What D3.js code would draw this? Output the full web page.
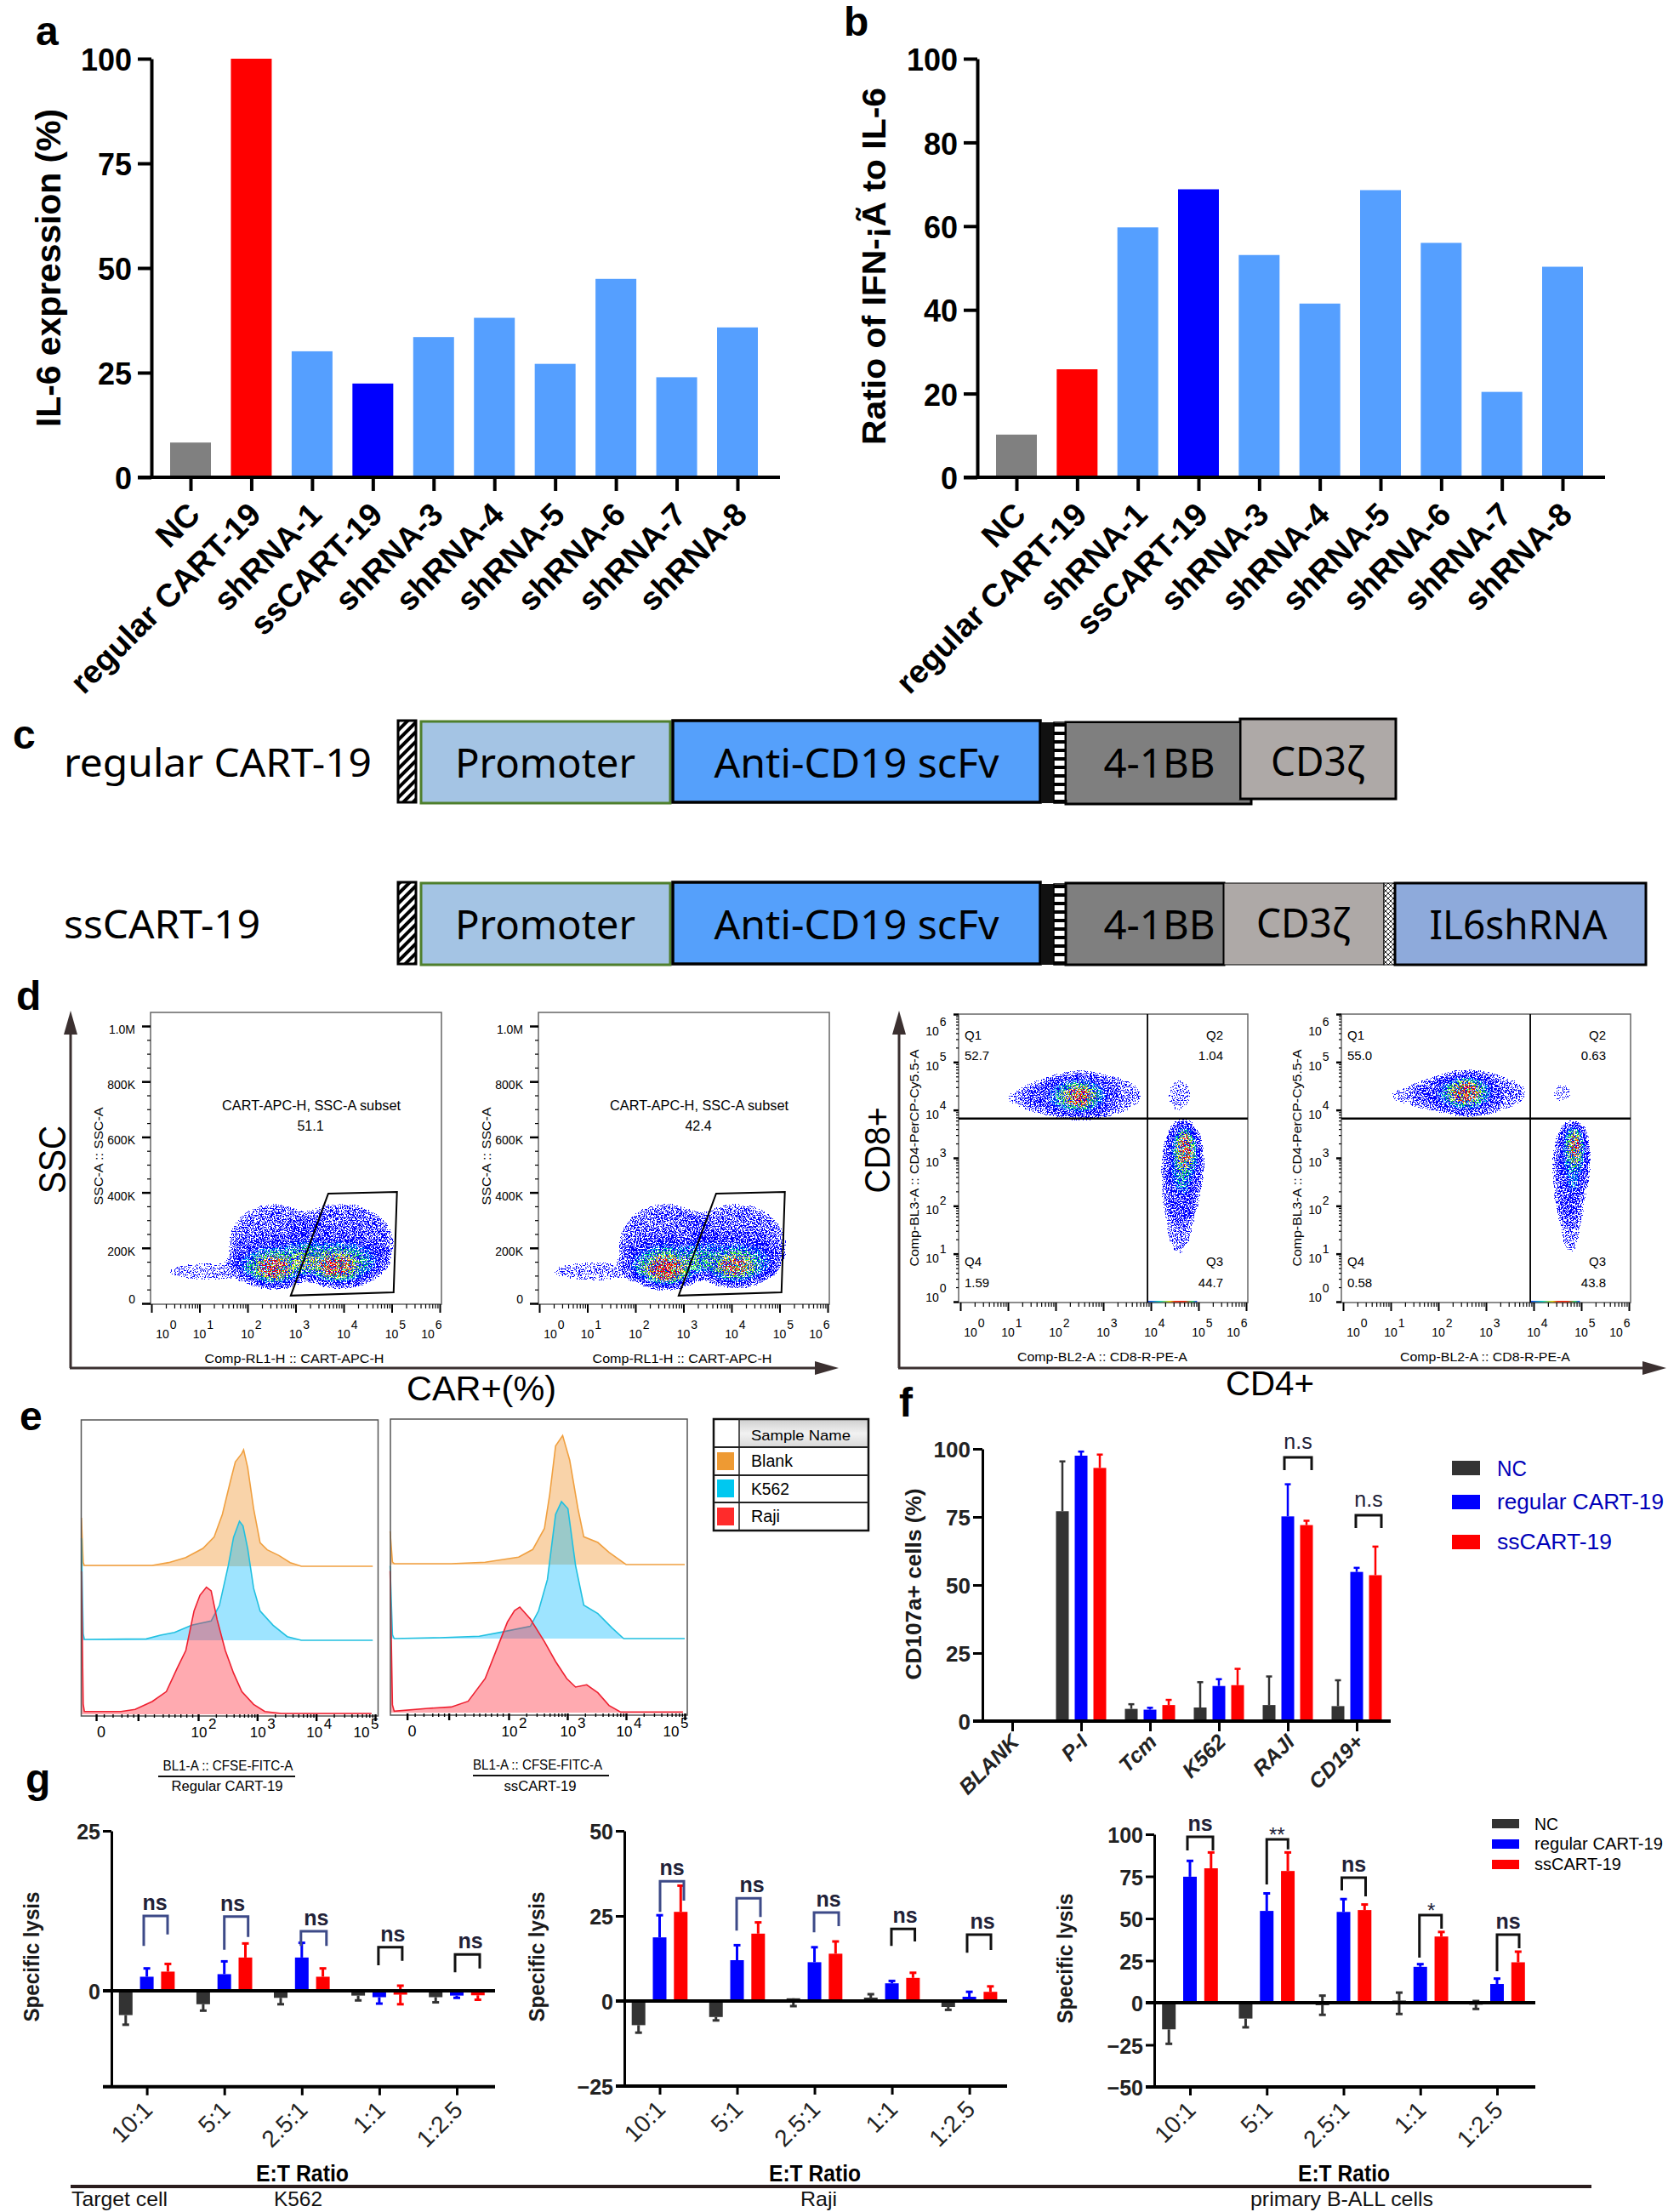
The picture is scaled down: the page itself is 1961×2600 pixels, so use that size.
<!DOCTYPE html>
<html><head><meta charset="utf-8">
<script src="https://cdn.jsdelivr.net/npm/d3@7"></script>
<style>html,body{margin:0;padding:0;background:#fff}svg{display:block}</style>
</head><body><svg id="chart" width="1961" height="2600" xmlns="http://www.w3.org/2000/svg"></svg>
<script>
// ---------- DATA ----------
const screenCategories = ["NC","regular CART-19","shRNA-1","ssCART-19","shRNA-3","shRNA-4","shRNA-5","shRNA-6","shRNA-7","shRNA-8"];
const il6Values   = [8.3,100,30.1,22.4,33.5,38.1,27.1,47.4,23.9,35.8];
const ratioValues = [10.2,25.8,59.7,68.8,53.1,41.5,68.6,56,20.4,50.3];
const il6Ticks = [0,25,50,75,100];
const ratioTicks = [0,20,40,60,80,100];
const screenColors = ["#808080","#ff0000","#559fff","#0000ff","#559fff","#559fff","#559fff","#559fff","#559fff","#559fff"];

const seriesNames = ["NC","regular CART-19","ssCART-19"];
const seriesColors = ["#333333","#0000ff","#ff0000"];

const cd107Categories = ["BLANK","P-I","Tcm","K562","RAJI","CD19+"];
const cd107Ticks = [0,25,50,75,100];
const cd107NC  = [0,77.1,4.5,5,5.9,5.5];
const cd107Reg = [0,97.5,4.2,12.9,75.2,54.8];
const cd107SS  = [0,93,5.9,13.2,72,53.6];
const cd107NCErr  = [null,95.4,6.2,14.3,16.4,15];
const cd107RegErr = [null,99,4.9,15.4,87,56.3];
const cd107SSErr  = [null,97.9,7.8,19.2,73.6,64.1];

const ratioCategories = ["10:1","5:1","2.5:1","1:1","1:2.5"];
const k562NC  = [-3.8,-2.1,-1.1,-0.75,-1];
const k562Reg = [2.2,2.6,5.2,-1,-0.75];
const k562SS  = [3,5.2,2.2,-0.6,-0.7];
const k562NCErr  = [-5.3,-3.1,-2.1,-1.5,-1.8];
const k562RegErr = [3.5,4.6,7.5,-2,-1.1];
const k562SSErr  = [4.2,7.4,3.5,-2.1,-1.4];
const k562SSErr2 = [null,null,null,0.8,null];

const rajiNC  = [-7.1,-4.7,0.8,1,-1.75];
const rajiReg = [18.7,12,11.4,5.2,1.25];
const rajiSS  = [26.2,19.8,13.9,6.8,2.7];
const rajiNCErr  = [-9.3,-5.7,-1.5,2,-2.6];
const rajiRegErr = [25.2,16.4,15.8,5.9,2.7];
const rajiSSErr  = [33.9,23.1,17.5,8.3,4.3];

const ballNC  = [-15.8,-9.4,-1.5,1.3,-1.2];
const ballReg = [74.8,54.5,53.9,21.3,11.1];
const ballSS  = [79.8,78.2,55,39.3,24];
const ballNCErr  = [-24.4,-14.6,-7.2,-6.7,-3.7];
const ballNCErr2 = [null,null,4.2,6,1];
const ballRegErr = [84.2,64.9,61.5,22.9,14.3];
const ballSSErr  = [89.2,89.2,58.3,42,30.3];

// histograms: [log10 fluorescence, relative count]
const histReg = {
  Blank:[[0.02,38],[0.05,3],[0.07,0.7],[1.22,0.7],[1.5,2.9],[1.79,6.9],[2.08,14],[2.27,22.9],[2.41,40.7],[2.55,67.3],[2.63,81.8],[2.74,88.4],[2.77,91.3],[2.84,77.3],[2.94,45.1],[3.05,18.4],[3.17,12.9],[3.37,8.4],[3.56,2.9],[3.75,0],[4.96,0]],
  K562:[[0.02,80],[0.05,5],[0.07,0.7],[1.12,1.1],[1.36,4],[1.6,6.2],[1.89,11.8],[2.22,15.1],[2.36,27.3],[2.51,58.4],[2.6,80.7],[2.7,93.3],[2.76,89.6],[2.84,71.8],[2.94,40.7],[3.05,22.9],[3.27,11.8],[3.51,2.9],[3.75,0],[4.96,0]],
  Raji:[[0.02,112],[0.05,8],[0.07,2.2],[0.69,2.2],[0.93,3.8],[1.22,10],[1.46,17.8],[1.65,36.7],[1.79,50],[1.93,81.1],[2.03,93.3],[2.14,99.6],[2.22,96.7],[2.32,74.4],[2.46,50],[2.6,32.2],[2.74,17.8],[2.94,7.8],[3.13,2.2],[3.41,0.7],[4.94,0.7]]
};
const histSS = {
  Blank:[[-0.02,26],[0.02,2],[0.05,0.7],[1.02,0.7],[1.6,1.8],[2.17,5.8],[2.41,11.8],[2.61,28.4],[2.7,55.1],[2.8,92.9],[2.92,101.1],[3.04,81.8],[3.18,44],[3.28,21.8],[3.52,17.3],[3.71,9.6],[4,0],[5,0]],
  K562:[[-0.02,57],[0.02,3],[0.05,0],[0.82,0.7],[1.5,1.8],[1.88,5.1],[2.37,9.6],[2.51,21.8],[2.66,46.2],[2.8,97.3],[2.9,107.3],[3.01,101.8],[3.14,57.3],[3.28,26.2],[3.52,19.6],[3.76,8.4],[3.96,0],[5,0]],
  Raji:[[-0.02,111],[0.02,6],[0.05,1.1],[0.63,3.3],[1.02,4.4],[1.31,8.9],[1.6,26.7],[1.79,48.9],[1.98,71.1],[2.1,80],[2.19,82.7],[2.37,73.3],[2.61,55.6],[2.8,40],[2.99,26.7],[3.14,20],[3.33,21.8],[3.52,15.6],[3.71,5.6],[3.91,0.4],[4.97,0.4]]
};
const histTicks = [0.27,0.98,2,3,4,5];

// flow plots: density clusters [centre x, centre y, radius x, radius y, weight]
const carRegular = [[1.2,115,1.0,45,.072],[2.55,210,.95,150,.11],[3.95,210,1.1,150,.12],[2.55,150,.85,85,.12],[2.55,135,.65,65,.18],[2.55,128,.38,42,.34],[2.55,125,.17,20,.62],[3.9,160,.95,85,.14],[3.9,145,.72,65,.18],[3.85,135,.42,45,.32],[3.85,128,.18,20,.62]];
const carSs = [[1.2,115,1.05,45,.075],[2.65,210,1.0,150,.115],[4.1,210,1.05,150,.11],[2.64,150,.85,88,.14],[2.64,135,.65,68,.2],[2.64,126,.38,44,.38],[2.64,122,.2,24,.76],[4.1,160,.9,85,.13],[4.1,145,.68,62,.17],[4.06,135,.42,44,.3],[4.06,130,.16,20,.36]];
const tcellRegular = [[1.7,4.25,.8,.3,.078],[2.6,4.3,1.25,.5,.09],[2.5,4.3,.78,.42,.14],[2.5,4.3,.5,.3,.24],[2.5,4.28,.26,.2,.42],[2.5,4.25,.1,.13,.6],[4.6,1.9,.3,.95,.1],[4.65,2.7,.42,1.05,.11],[4.7,3.0,.32,.75,.2],[4.72,3.15,.18,.45,.42],[4.75,3.2,.08,.22,.55],[4.6,4.3,.32,.42,.072]];
const tcellSs = [[1.75,4.3,.85,.28,.078],[2.7,4.35,1.2,.46,.09],[2.6,4.35,.72,.4,.15],[2.6,4.35,.46,.3,.26],[2.57,4.38,.25,.2,.44],[2.57,4.4,.1,.13,.62],[4.78,1.8,.22,.85,.1],[4.75,2.7,.36,1.05,.11],[4.85,3.0,.27,.72,.2],[4.87,3.2,.14,.45,.42],[4.87,3.3,.07,.22,.5],[4.6,4.35,.3,.3,.066]];
const carGates = [[[2.9,28],[3.68,396],[5.11,402],[5.04,40]],[[2.9,28],[3.68,396],[5.11,402],[5.04,40]]];
const densityRamp = [null,null,"#0000ff","#0000ff","#0000ff","#0000ff","#0000ff","#0000ff","#0020ff","#0090ff","#00d0e0","#00e090","#00e050","#30e020","#80f000","#d0f000","#ffd000","#ff8000","#ff3000","#ff0000"];
const quadrantLabels = [{q:["Q1","52.7","Q2","1.04","Q4","1.59","Q3","44.7"]},{q:["Q1","55.0","Q2","0.63","Q4","0.58","Q3","43.8"]}];

// ---------- HELPERS ----------
const SANS = "'Liberation Sans', Arial, sans-serif";
const CAL = "'Noto Sans', sans-serif";
const svg = d3.select("#chart");
const defs = svg.append("defs");
function T(p,str,x,y,o={}){
  const t=p.append("text").attr("x",x).attr("y",y).attr("font-family",o.fam||SANS)
    .attr("font-size",o.size||16).attr("font-weight",o.w||"normal").attr("font-style",o.style||"normal")
    .attr("fill",o.fill||"#000").attr("text-anchor",o.anchor||"start").text(str);
  if(o.rot!=null) t.attr("transform",`rotate(${o.rot} ${x} ${y})`);
  if(o.len) t.attr("textLength",o.len).attr("lengthAdjust","spacingAndGlyphs");
  return t;
}
function L(p,x1,y1,x2,y2,c="#000",w=2){return p.append("line").attr("x1",x1).attr("y1",y1).attr("x2",x2).attr("y2",y2).attr("stroke",c).attr("stroke-width",w);}
function R(p,x,y,w,h,f,s,sw){return p.append("rect").attr("x",x).attr("y",y).attr("width",w).attr("height",h).attr("fill",f).attr("stroke",s||"none").attr("stroke-width",sw||0);}

// panel letters
[["a",42,53],["b",992,42],["c",15,880],["d",19,1187],["e",23,1681],["f",1057,1665],["g",30,2107]].forEach(d=>T(svg,d[0],d[1],d[2],{size:48,w:"bold"}));

// ---------- a, b ----------
function screenPanel(o){
  const g=svg.append("g");
  const x=d3.scalePoint(screenCategories,[o.x0,o.x1]);
  const y=d3.scaleLinear([0,100],[561,69]);
  g.selectAll("rect.bar").data(o.values).join("rect").attr("class","bar")
    .attr("x",(d,i)=>x(screenCategories[i])-24).attr("width",48)
    .attr("y",d=>y(d)).attr("height",d=>y(0)-y(d)).attr("fill",(d,i)=>screenColors[i]);
  const ya=g.append("g").attr("transform",`translate(${o.axis},0)`).call(d3.axisLeft(y).tickValues(o.ticks).tickSize(16).tickPadding(7).tickSizeOuter(0));
  ya.selectAll("path,line").attr("stroke","#000").attr("stroke-width",4);
  ya.selectAll("text").attr("font-family",SANS).attr("font-weight","bold").attr("font-size",36).attr("fill","#000").attr("dy","0.38em");
  const xa=g.append("g").attr("transform",`translate(0,${y(0)})`).call(d3.axisBottom(x).tickSize(16).tickSizeOuter(0));
  xa.select("path").remove();
  xa.selectAll("line").attr("stroke","#000").attr("stroke-width",4);
  xa.selectAll("text").attr("font-family",SANS).attr("font-weight","bold").attr("font-size",38).attr("fill","#000")
    .attr("x",0).attr("y",0).attr("dy",0).attr("text-anchor","end").attr("transform","translate(13,46) rotate(-45)");
  L(g,o.axis-16,y(0),o.xEnd,y(0),"#000",4);
  T(g,o.title,o.titleX,o.titleY,{size:o.titleSize,w:"bold",anchor:"middle",rot:-90,len:o.titleLen});
}
screenPanel({values:il6Values,ticks:il6Ticks,x0:224,x1:867,axis:178,xEnd:917,title:"IL-6 expression (%)",titleX:71,titleY:315,titleSize:41,titleLen:374});
screenPanel({values:ratioValues,ticks:ratioTicks,x0:1195,x1:1837,axis:1149,xEnd:1887,title:"Ratio of IFN-¡Ã to IL-6",titleX:1041,titleY:313,titleSize:38,titleLen:420});

// ---------- c ----------
const hatch=defs.append("pattern").attr("id","hatch").attr("width",8).attr("height",8).attr("patternUnits","userSpaceOnUse").attr("patternTransform","rotate(-45) ");
hatch.append("rect").attr("width",8).attr("height",8).attr("fill","#fff");
hatch.append("rect").attr("width",8).attr("height",4).attr("fill","#000");
const dash=defs.append("pattern").attr("id","dash").attr("width",16).attr("height",10).attr("patternUnits","userSpaceOnUse");
dash.append("rect").attr("width",16).attr("height",10).attr("fill","#fff");
dash.append("rect").attr("width",16).attr("height",4).attr("fill","#000");
const cross=defs.append("pattern").attr("id","cross").attr("width",6).attr("height",6).attr("patternUnits","userSpaceOnUse");
cross.append("rect").attr("width",6).attr("height",6).attr("fill","#fff");
cross.append("path").attr("d","M0 0L6 6M6 0L0 6").attr("stroke","#222").attr("stroke-width",1);
function construct(top,h,segs){
  const g=svg.append("g");
  R(g,468,top,21,h,"url(#hatch)","#000",3);
  R(g,495,top+1,293,h,"#a4c4e4","#4e7f2c",3);
  R(g,791,top,432,h,"#55a0fb","#000",3.5);
  R(g,1224,top+2,15,h-1,"#111");
  R(g,1239,top+2,14,h-1,"url(#dash)","#000",1.5);
  segs.forEach(s=>{
    const pad=s.pad||0;
    R(g,s.x,top+s.dy,s.w,h-pad,s.fill,"#000",s.sw==null?3:s.sw);
  });
  T(g,"Promoter",641,top+67,{size:47,fam:CAL,anchor:"middle",len:212});
  T(g,"Anti-CD19 scFv",1007,top+67,{size:47,fam:CAL,anchor:"middle",len:335});
  return g;
}
let gc=construct(847,96,[{x:1253,w:218,fill:"#7f7f7f",dy:2},{x:1458,w:183,fill:"#aea9a7",dy:-2,pad:2}]);
R(gc,1254,850,203,90,"#7f7f7f");
T(gc,"4-1BB",1363,914,{size:47,fam:CAL,anchor:"middle",len:131});
T(gc,"CD3ζ",1549,912,{size:47,fam:CAL,anchor:"middle",len:110});
T(svg,"regular CART-19",75,913,{size:46,fam:CAL,len:362});
gc=construct(1037,96,[{x:1253,w:186,fill:"#7f7f7f",dy:1},{x:1439,w:188,fill:"#aea9a7",dy:1,sw:1},{x:1627,w:13,fill:"url(#cross)",dy:1,sw:1},{x:1640,w:295,fill:"#8eaadb",dy:1}]);
T(gc,"4-1BB",1363,1104,{size:47,fam:CAL,anchor:"middle",len:131});
T(gc,"CD3ζ",1532,1102,{size:47,fam:CAL,anchor:"middle",len:110});
T(gc,"IL6shRNA",1785,1104,{size:47,fam:CAL,anchor:"middle",len:209});
T(svg,"ssCART-19",75,1103,{size:46,fam:CAL,len:231});

// ---------- d ----------
const hex=c=>c?d3.rgb(c):{r:0,g:0,b:0};
function densityFilter(id,seed,left,top,w,h){
  const f=defs.append("filter").attr("id",id).attr("filterUnits","userSpaceOnUse").attr("x",left).attr("y",top).attr("width",w).attr("height",h)
    .attr("color-interpolation-filters","sRGB");
  f.append("feGaussianBlur").attr("in","SourceAlpha").attr("stdDeviation",6).attr("result","d");
  f.append("feTurbulence").attr("type","fractalNoise").attr("baseFrequency",0.7).attr("numOctaves",2).attr("seed",seed).attr("result","n");
  f.append("feColorMatrix").attr("in","n").attr("type","matrix").attr("values","0 0 0 0 0 0 0 0 0 0 0 0 0 0 0 0 0 0 5 -2").attr("result","n2");
  f.append("feComposite").attr("in","d").attr("in2","n2").attr("operator","arithmetic").attr("k1",1.6).attr("k2",0.1).attr("k3",0).attr("k4",0).attr("result","v");
  f.append("feColorMatrix").attr("in","v").attr("type","matrix").attr("values","0 0 0 1 0 0 0 0 1 0 0 0 0 1 0 0 0 0 1 0").attr("result","vv");
  const ct=f.append("feComponentTransfer").attr("in","vv");
  ct.append("feFuncR").attr("type","discrete").attr("tableValues",densityRamp.map(c=>(hex(c).r/255).toFixed(3)).join(" "));
  ct.append("feFuncG").attr("type","discrete").attr("tableValues",densityRamp.map(c=>(hex(c).g/255).toFixed(3)).join(" "));
  ct.append("feFuncB").attr("type","discrete").attr("tableValues",densityRamp.map(c=>(hex(c).b/255).toFixed(3)).join(" "));
  ct.append("feFuncA").attr("type","discrete").attr("tableValues",densityRamp.map(c=>c?1:0).join(" "));
}
function drawClusters(g,id,clusters,x,y){
  g.append("g").attr("filter",`url(#${id})`).selectAll("ellipse").data(clusters).join("ellipse")
    .attr("cx",d=>x(d[0])).attr("cy",d=>y(d[1]))
    .attr("rx",d=>Math.abs(x(d[0]+d[2])-x(d[0]))).attr("ry",d=>Math.abs(y(d[1]+d[3])-y(d[1])))
    .attr("fill","#000").attr("fill-opacity",d=>d[4]);
}
const decades=[0,1,2,3,4,5,6];
const minorLog=decades.slice(0,6).flatMap(e=>d3.range(2,10).map(m=>e+Math.log10(m)));
function styleTicks(sel,w){sel.selectAll("path").remove();sel.selectAll("line").attr("stroke","#000").attr("stroke-width",w);sel.selectAll("text").remove();}
function tenLabel(g,cx,base,e,size){
  T(g,"10",cx,base,{size:size,anchor:"middle"});
  T(g,String(e),cx+size*0.62,base-11,{size:size,anchor:"start"});
}
function carPlot(o){
  const g=svg.append("g");
  const left=o.left, right=left+342, top=1190, bottom=1533;
  const x=d3.scaleLinear([0,6],[left+1,left+340]);
  const y=d3.scaleLinear([0,1000],[1532,1206]);
  densityFilter(o.id,o.seed,left,top,342,343);
  drawClusters(g,o.id,o.clusters,x,y);
  R(g,left,top,342,343,"none","#666",1.5);
  const xa=g.append("g").attr("transform",`translate(0,${bottom})`);
  xa.append("g").call(d3.axisBottom(x).tickValues(minorLog).tickSize(5).tickSizeOuter(0)).call(styleTicks,1.2);
  xa.append("g").call(d3.axisBottom(x).tickValues(decades).tickSize(10).tickSizeOuter(0)).call(styleTicks,2);
  const ya=g.append("g").attr("transform",`translate(${left},0)`);
  ya.append("g").call(d3.axisLeft(y).tickValues(d3.range(0,1001,50)).tickSize(4).tickSizeOuter(0)).call(styleTicks,1.2);
  ya.append("g").call(d3.axisLeft(y).tickValues([0,200,400,600,800,1000]).tickSize(10).tickSizeOuter(0)).call(styleTicks,2.5);
  [["1.0M",1000],["800K",800],["600K",600],["400K",400],["200K",200],["0",0]].forEach(d=>{
    T(g,d[0],left-18,y(d[1])+(d[1]?9:0),{size:14,anchor:"end"});
  });
  decades.forEach(e=>{
    const cx=x(e)+(e===0?13:e===6?-14:0);
    tenLabel(g,cx,1573,e,14);
  });
  T(g,"SSC-A :: SSC-A",left-56,1359,{size:15,anchor:"middle",rot:-90,len:115});
  T(g,"Comp-RL1-H :: CART-APC-H",left+169,1602,{size:15,anchor:"middle",len:211});
  T(g,"CART-APC-H, SSC-A subset",left+189,1305,{size:16,anchor:"middle",len:210});
  T(g,o.pct,left+188,1329,{size:16,anchor:"middle"});
  g.append("path").datum(o.gate).attr("d",d3.line().x(d=>x(d[0])).y(d=>y(d[1])).curve(d3.curveLinearClosed)).attr("fill","none").attr("stroke","#000").attr("stroke-width",2);
}
carPlot({left:177,id:"fc1",seed:3,clusters:carRegular,gate:carGates[0],pct:"51.1"});
carPlot({left:633,id:"fc2",seed:8,clusters:carSs,gate:carGates[1],pct:"42.4"});

const rainbow=defs.append("linearGradient").attr("id","rainbow");
[[0,"#0030ff"],[.25,"#00e0c0"],[.45,"#f0e000"],[.55,"#ff2000"],[.75,"#ff2000"],[.9,"#20e060"],[1,"#0030ff"]].forEach(s=>rainbow.append("stop").attr("offset",s[0]).attr("stop-color",s[1]));
function tcellPlot(o){
  const g=svg.append("g");
  const left=o.left, top=1192, bottom=1531;
  const x=d3.scaleLinear([0,6],[left+2,left+338]);
  const y=d3.scaleLinear([0,6],[1530,1192]);
  densityFilter(o.id,o.seed,left,top,340,339);
  drawClusters(g,o.id,o.clusters,x,y);
  R(g,x(3.93),1529,x(4.97)-x(3.93),3,"url(#rainbow)");
  R(g,left,top,340,339,"none","#666",1.5);
  const xa=g.append("g").attr("transform",`translate(0,${bottom})`);
  xa.append("g").call(d3.axisBottom(x).tickValues(minorLog).tickSize(5).tickSizeOuter(0)).call(styleTicks,1.2);
  xa.append("g").call(d3.axisBottom(x).tickValues(decades).tickSize(10).tickSizeOuter(0)).call(styleTicks,2);
  const ya=g.append("g").attr("transform",`translate(${left},0)`);
  ya.append("g").call(d3.axisLeft(y).tickValues(minorLog).tickSize(3).tickSizeOuter(0)).call(styleTicks,1.2);
  ya.append("g").call(d3.axisLeft(y).tickValues(decades).tickSize(6).tickSizeOuter(0)).call(styleTicks,2.5);
  L(g,x(3.93),top,x(3.93),bottom,"#000",1.8);
  L(g,left,y(3.82),left+340,y(3.82),"#000",2.4);
  decades.forEach(e=>{
    tenLabel(g,x(e)+(e===0?12:e===6?-15:0),1571,e,14);
    const yb=y(e)+(e===0?0:e===6?25:10);
    tenLabel(g,left-31,yb,e,14);
  });
  T(g,"Comp-BL3-A :: CD4-PerCP-Cy5.5-A",left-47,1361,{size:15,anchor:"middle",rot:-90,len:255});
  T(g,"Comp-BL2-A :: CD8-R-PE-A",left+169,1600,{size:15,anchor:"middle",len:200});
  const q=o.labels;
  T(g,q[0],left+7,1222,{size:15});T(g,q[1],left+7,1246,{size:15});
  T(g,q[2],left+311,1222,{size:15,anchor:"end"});T(g,q[3],left+311,1246,{size:15,anchor:"end"});
  T(g,q[4],left+7,1488,{size:15});T(g,q[5],left+7,1513,{size:15});
  T(g,q[6],left+311,1488,{size:15,anchor:"end"});T(g,q[7],left+311,1513,{size:15,anchor:"end"});
}
tcellPlot({left:1127,id:"fc3",seed:5,clusters:tcellRegular,labels:quadrantLabels[0].q});
tcellPlot({left:1577,id:"fc4",seed:11,clusters:tcellSs,labels:quadrantLabels[1].q});

const arrowC="#3b3030";
function arrowUp(x,y0,y1){L(svg,x,y0,x,y1+20,arrowC,3);svg.append("path").attr("d",d3.line()([[x,y1],[x-8,y1+28],[x+8,y1+28]])+"Z").attr("fill",arrowC);}
function arrowRight(y,x0,x1){L(svg,x0,y,x1-20,y,arrowC,3);svg.append("path").attr("d",d3.line()([[x1,y],[x1-28,y-8],[x1-28,y+8]])+"Z").attr("fill",arrowC);}
arrowUp(83,1608,1188);arrowRight(1608,82,986);
arrowUp(1057,1608,1188);arrowRight(1608,1056,1959);
T(svg,"SSC",77,1363,{size:44,anchor:"middle",rot:-90,len:80});
T(svg,"CAR+(%)",566,1646,{size:40,anchor:"middle",len:176});
T(svg,"CD8+",1046,1352,{size:42,anchor:"middle",rot:-90,len:101});
T(svg,"CD4+",1493,1640,{size:40,anchor:"middle",len:104});

// ---------- e ----------
const histStyle={Blank:["#f08c1e","#f0a040"],K562:["#00b8ff","#20c0e0"],Raji:["#ff2030","#ee2030"]};
function histPanel(o){
  const g=svg.append("g");
  const x=d3.scaleLinear([2,5],[o.x2,o.x5]);
  const h=d3.scaleLinear([0,100],[0,150]);
  ["Blank","K562","Raji"].forEach(k=>{
    const base=o.base[k];
    const area=d3.area().x(d=>x(d[0])).y0(base).y1(d=>base-h(d[1])).curve(d3.curveLinear);
    const line=d3.line().x(d=>x(d[0])).y(d=>base-h(d[1])).curve(d3.curveLinear);
    g.append("path").attr("d",area(o.data[k])).attr("fill",histStyle[k][0]).attr("fill-opacity",.38);
    g.append("path").attr("d",line(o.data[k])).attr("fill","none").attr("stroke",histStyle[k][1]).attr("stroke-width",1.6);
  });
  R(g,o.left,o.top,349,348,"none","#555",1.5);
  const ax=g.append("g").attr("transform",`translate(0,${o.top+346})`);
  const minor=[2,3,4].flatMap(e=>d3.range(2,10).map(m=>e+Math.log10(m))).concat([.4,.55,.7,.8,.9,1.1,1.25,1.4,1.5,1.6,1.7,1.8,1.9]);
  ax.append("g").call(d3.axisBottom(x).tickValues(minor).tickSize(4).tickSizeOuter(0)).call(styleTicks,1.4);
  ax.append("g").call(d3.axisBottom(x).tickValues(histTicks).tickSize(8).tickSizeOuter(0)).call(styleTicks,2.4);
  T(g,"0",x(histTicks[0])+6,o.lab,{size:18,anchor:"middle"});
  [[2,9],[3,9],[4,6],[5,-8]].forEach(d=>{
    T(g,"10",x(d[0])+d[1]-8,o.lab,{size:17,anchor:"middle"});
    T(g,String(d[0]),x(d[0])+d[1]+3,o.lab-10,{size:17});
  });
}
histPanel({left:95.5,top:1669,x2:233,x5:441,data:histReg,base:{Blank:1841,K562:1928,Raji:2015},lab:2042});
histPanel({left:459,top:1668,x2:598,x5:805,data:histSS,base:{Blank:1839,K562:1926,Raji:2013},lab:2041});
T(svg,"BL1-A :: CFSE-FITC-A",268,2081,{size:16,anchor:"middle",len:153});
L(svg,186,2088,347,2088,"#111",2);
T(svg,"Regular CART-19",267,2105,{size:16,anchor:"middle",len:131});
T(svg,"BL1-A :: CFSE-FITC-A",632,2080,{size:16,anchor:"middle",len:152});
L(svg,556,2087,716,2087,"#111",2);
T(svg,"ssCART-19",635,2105,{size:16,anchor:"middle",len:85});

const headerGrad=defs.append("linearGradient").attr("id","hdr").attr("x2",0).attr("y2",1);
headerGrad.append("stop").attr("offset",0).attr("stop-color","#d0d0d0");
headerGrad.append("stop").attr("offset",.5).attr("stop-color","#f2f2f2");
headerGrad.append("stop").attr("offset",1).attr("stop-color","#d8d8d8");
R(svg,869,1669,152,32,"url(#hdr)");
R(svg,839,1668,182,131,"none","#111",2.5);
[1701,1734,1766].forEach(y=>L(svg,839,y,1021,y,"#222",2));
L(svg,869,1668,869,1799,"#222",1.5);
T(svg,"Sample Name",883,1693,{size:17,len:117});
[["Blank",1707,1724,"#ee9a33",49],["K562",1739,1757,"#00c8f0",45],["Raji",1772,1789,"#ff2b2b",34]].forEach(d=>{
  R(svg,843,d[1],20,21,d[3]);
  T(svg,d[0],883,d[2],{size:20,len:d[4]});
});

// ---------- f, g ----------
function groupedPanel(o){
  const g=svg.append("g");
  const x=d3.scalePoint(o.cats,[o.x0,o.x1]);
  const y=d3.scaleLinear(o.domain,o.range);
  const offs=[-o.off,0,o.off];
  o.series.forEach((s,si)=>{
    const c=seriesColors[si];
    const X=i=>x(o.cats[i])+offs[si];
    s.v.forEach((v,i)=>{
      if(v===0) return;
      R(g,X(i)-o.barW/2,Math.min(y(v),y(0)),o.barW,Math.abs(y(v)-y(0)),c);
      [s.e[i],s.e2?s.e2[i]:null].forEach(e=>{
        if(e==null) return;
        L(g,X(i),y(v),X(i),y(e),c,o.errW);
        L(g,X(i)-o.cap,y(e),X(i)+o.cap,y(e),c,o.errW);
      });
    });
  });
  const ya=g.append("g").attr("transform",`translate(${o.axis},0)`).call(d3.axisLeft(y).tickValues(o.ticks).tickSize(o.tickL).tickPadding(o.pad).tickSizeOuter(0));
  ya.selectAll("path,line").attr("stroke","#000").attr("stroke-width",3);
  ya.selectAll("text").attr("font-family",SANS).attr("font-weight","bold").attr("font-size",o.fs).attr("fill","#222").attr("dy","0.38em");
  const xa=g.append("g").attr("transform",`translate(0,${y(o.xAt)})`).call(d3.axisBottom(x).tickSize(o.tickX).tickSizeOuter(0));
  xa.select("path").remove();
  xa.selectAll("line").attr("stroke","#000").attr("stroke-width",3);
  xa.selectAll("text").attr("font-family",SANS).attr("font-size",o.xfs).attr("font-weight",o.xw).attr("font-style",o.xstyle||"normal").attr("fill","#222")
    .attr("x",0).attr("y",0).attr("dy",0).attr("text-anchor","end").attr("transform",`translate(${o.xdx},${o.xdy}) rotate(-45)`);
  L(g,o.axis-o.tickL,y(o.xAt),o.xEnd,y(o.xAt),"#000",4);
  if(o.xAt!==0) L(g,o.axis-o.tickL,y(0),o.xEnd,y(0),"#000",4);
  (o.brackets||[]).forEach(b=>{
    const xc=x(o.cats[b[0]]);
    const x0=xc+b[1],x1=xc+b[2];
    g.append("path").attr("d",d3.line()([[x0,y(b[4])],[x0,y(b[3])],[x1,y(b[3])],[x1,y(b[5])]])).attr("fill","none").attr("stroke",b[8]||"#111").attr("stroke-width",3);
    const star=b[7].startsWith("*");
    T(g,b[7],xc+b[6],y(b[3])+(star?3:o.nsGap),{size:star?24:o.nsSize,w:star?"normal":o.nsW,anchor:"middle",fill:"#222238"});
  });
  T(g,o.title,o.titleX,o.titleY,{size:o.titleSize,w:"bold",anchor:"middle",rot:-90,len:o.titleLen,fill:"#1a1a1a"});
  return g;
}
const NAVY="#3d4a88";
groupedPanel({cats:cd107Categories,x0:1190,x1:1595,domain:[0,100],range:[2023,1703],off:22,barW:15,errW:2.5,cap:3.5,axis:1155,ticks:cd107Ticks,tickL:11,pad:3,fs:26,xAt:0,tickX:12,xfs:25,xw:"bold",xstyle:"italic",xdx:9,xdy:26,xEnd:1635,
  series:[{v:cd107NC,e:cd107NCErr},{v:cd107Reg,e:cd107RegErr},{v:cd107SS,e:cd107SSErr}],
  brackets:[[4,-4,28,96.9,92.2,92.2,12,"n.s"],[5,-1,29,75.6,70.9,70.9,14,"n.s"]],nsGap:-10,nsSize:25,nsW:"normal",
  title:"CD107a+ cells (%)",titleX:1083,titleY:1862,titleSize:25,titleLen:225});
const fleg=svg.append("g");
[[1717,1735],[1757,1774],[1804,1821]].forEach((d,i)=>{
  R(fleg,1707,d[0],33,17,seriesColors[i]);
  T(fleg,seriesNames[i],1760,d[1],{size:26,fill:"#0000b8",len:[35,196,135][i]});
});

const gcommon={cats:ratioCategories,off:24.8,barW:16,errW:3,cap:4,tickL:10,pad:3,fs:25,tickX:10,xfs:28,xw:"normal",xdx:8,xdy:29,nsGap:-7,nsSize:25,nsW:"bold",titleSize:25,titleLen:153};
groupedPanel({...gcommon,x0:172.6,x1:537,domain:[-15,25],range:[2452.8,2152],axis:131,ticks:[0,25],xAt:-15,xEnd:582,
  series:[{v:k562NC,e:k562NCErr},{v:k562Reg,e:k562RegErr},{v:k562SS,e:k562SSErr,e2:k562SSErr2}],
  brackets:[[0,-3.6,24.4,11.7,7,8.8,9.4,"ns",NAVY],[1,0,28,11.6,6.4,8.4,10,"ns",NAVY],[2,-1,29,9.3,7,7,17,"ns",NAVY],[3,-1,27,6.8,4,4.7,16,"ns"],[4,-2,27,5.7,2.9,3.5,16,"ns"]],
  title:"Specific lysis",titleX:46,titleY:2300});
groupedPanel({...gcommon,x0:775.5,x1:1139.6,domain:[-25,50],range:[2452,2152],axis:734,ticks:[-25,0,25,50],xAt:-25,xEnd:1184,
  series:[{v:rajiNC,e:rajiNCErr},{v:rajiReg,e:rajiRegErr},{v:rajiSS,e:rajiSSErr}],
  brackets:[[0,.5,28.5,35.2,26.2,29.5,14.5,"ns",NAVY],[1,-.5,27.5,30.2,20.7,24.7,17.5,"ns",NAVY],[2,-.5,28.5,26,20.2,22,16.5,"ns",NAVY],[3,-.6,27,21.2,16.2,17.5,15.4,"ns"],[4,-2.6,25.4,19.5,14.2,15,15.4,"ns"]],
  title:"Specific lysis",titleX:640,titleY:2300});
groupedPanel({...gcommon,x0:1399,x1:1760,domain:[-50,100],range:[2453,2156],axis:1357,ticks:[-50,-25,0,25,50,75,100],xAt:-50,xEnd:1805,
  series:[{v:ballNC,e:ballNCErr,e2:ballNCErr2},{v:ballReg,e:ballRegErr},{v:ballSS,e:ballSSErr}],
  brackets:[[0,-3,27,98.5,90.4,90.4,12,"ns"],[1,0,25,97,70.2,91,12,"**"],[2,-2,26,74.2,66.7,63.1,12,"ns"],[3,-1,25,52,26.8,43.9,13,"*"],[4,0,26,40.4,18.7,32.3,13,"ns"]],
  title:"Specific lysis",titleX:1261,titleY:2302});
const gleg=svg.append("g");
[[2138,2151],[2162,2174],[2186,2198]].forEach((d,i)=>{
  R(gleg,1754,d[0],32,11,seriesColors[i]);
  T(gleg,seriesNames[i],1804,d[1],{size:20,len:[28,151,102][i]});
});
[[355.5,109],[958,108],[1580,108]].forEach(d=>T(svg,"E:T Ratio",d[0],2564,{size:27,w:"bold",anchor:"middle",len:d[1]}));
L(svg,83,2570,1871,2570,"#2b1d1d",4);
[["Target cell",84,113],["K562",322,57],["Raji",941,43],["primary B-ALL cells",1470,215]].forEach(d=>T(svg,d[0],d[1],2593,{size:24,len:d[2],fill:"#111"}));
</script></body></html>
